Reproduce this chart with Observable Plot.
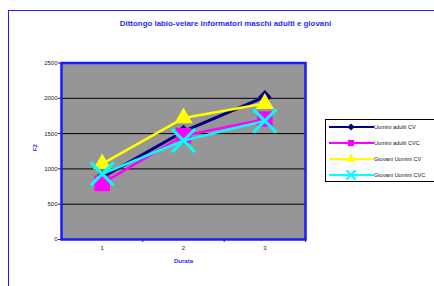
<!DOCTYPE html>
<html><head><meta charset="utf-8">
<script src="https://cdn.jsdelivr.net/npm/d3@7"></script>
<script src="https://cdn.jsdelivr.net/npm/@observablehq/plot@0.6"></script>
<style>
body{margin:0;background:#fff;width:434px;height:286px;overflow:hidden;position:relative;font-family:"Liberation Sans",Arial,sans-serif}
#frame{position:absolute;left:8px;top:10px;width:440px;height:290px;border-top:1.5px solid #2020ff;border-left:1.5px solid #2020ff;box-sizing:border-box}
#chart{position:absolute;left:0;top:0}
#legend{position:absolute;left:325px;top:119px;width:115px;height:63px;border:1px solid #000;background:#fff;box-sizing:border-box}
.row{position:absolute;left:0;height:10px}
.row svg{position:absolute;left:2px;top:0}
.row span{position:absolute;left:48px;top:1px;font-size:5.6px;white-space:nowrap;color:#111;line-height:8px}
</style></head><body>
<div id="frame"></div><div id="chart"></div><div id="legend"></div>
<script>
const durata = [1, 2, 3];
const seriesNames = ["Uomini adulti CV", "Uomini adulti CVC", "Giovani Uomini CV", "Giovani Uomini CVC"];
const uominiCV = [880, 1530, 2020];
const uominiCVC = [795, 1470, 1705];
const giovaniCV = [1070, 1720, 1925];
const giovaniCVC = [930, 1400, 1680];
const yTicks = [0, 500, 1000, 1500, 2000, 2500];
const gridLines = [500, 1000, 1500, 2000];
const colors = ["#000080", "#ff00ff", "#ffff00", "#00ffff"];
const title = "Dittongo labio-velare informatori maschi adulti e giovani";
const xLabel = "Durata";
const yLabel = "F2";

const allValues = [uominiCV, uominiCVC, giovaniCV, giovaniCVC];
const tables = allValues.map((vals, i) => durata.map((d, j) => ({durata: d, value: vals[j], series: seriesNames[i]})));

const symbolStyles = [
  {symbol: "square", r: 5.4, rotate: 45, fill: colors[0]},
  {symbol: "square", r: 8.8, fill: colors[1]},
  {symbol: "triangle", r: 6.8, fill: colors[2]},
  {symbol: "times", r: 10.5, stroke: colors[3], strokeWidth: 3, fill: "none"}
];

const seriesMarks = tables.flatMap((t, i) => [
  Plot.line(t, {x: "durata", y: "value", stroke: colors[i], strokeWidth: i === 0 ? 3 : 2.5}),
  Plot.dot(t, {x: "durata", y: "value", ...symbolStyles[i]})
]);

const chart = Plot.plot({
  width: 434, height: 286,
  marginLeft: 61, marginRight: 129, marginTop: 62.5, marginBottom: 47,
  style: {fontFamily: "Liberation Sans, Arial, sans-serif", fontSize: "6px", background: "transparent", color: "#222"},
  x: {type: "linear", domain: [0.5, 3.5]},
  y: {domain: [0, 2500]},
  marks: [
    Plot.frame({fill: "#969696"}),
    Plot.ruleY(gridLines, {stroke: "#000", strokeWidth: 1}),
    Plot.axisY({ticks: yTicks, tickSize: 3, tickPadding: 1, label: null, tickFormat: d => String(d)}),
    Plot.axisX({ticks: durata, tickSize: 0, tickPadding: 6, label: null, tickFormat: d => String(d)}),
    Plot.axisX({ticks: [1.5, 2.5, 3.5], tickSize: 3, label: null, tickFormat: () => ""}),
    ...seriesMarks,
    Plot.frame({stroke: "#1a1aff", strokeWidth: 2.5}),
    Plot.text([title], {text: d => d, frameAnchor: "top", dy: -39.5, dx: 42, lineAnchor: "middle", fontWeight: "bold", fontSize: 7.9, fill: "#2a2aff"}),
    Plot.text([yLabel], {text: d => d, frameAnchor: "left", dx: -26, rotate: -90, fontWeight: "bold", fontSize: 6, fill: "#2a2aff"}),
    Plot.text([xLabel], {text: d => d, frameAnchor: "bottom", dy: 22, lineAnchor: "middle", fontWeight: "bold", fontSize: 6, fill: "#2a2aff"})
  ]
});
document.getElementById("chart").appendChild(chart);

// legend
const legend = d3.select("#legend");
const legendSym = [
  {type: d3.symbolSquare, size: 26, rotate: 45},
  {type: d3.symbolSquare, size: 40},
  {type: d3.symbolTriangle, size: 40},
  {type: d3.symbolTimes, size: 60, stroke: true}
];
seriesNames.forEach((name, i) => {
  const row = legend.append("div").attr("class", "row").style("top", (1.5 + i * 16.3) + "px");
  const svg = row.append("svg").attr("width", 46).attr("height", 10);
  svg.append("line").attr("x1", 1).attr("x2", 46).attr("y1", 5).attr("y2", 5).attr("stroke", colors[i]).attr("stroke-width", 2);
  const s = legendSym[i];
  const p = svg.append("path").attr("d", d3.symbol(s.type, s.size)()).attr("transform", `translate(23,5) rotate(${s.rotate || 0})`);
  if (s.stroke) p.attr("fill", "none").attr("stroke", colors[i]).attr("stroke-width", 2);
  else p.attr("fill", colors[i]);
  row.append("span").text(name);
});
</script>
</body></html>
